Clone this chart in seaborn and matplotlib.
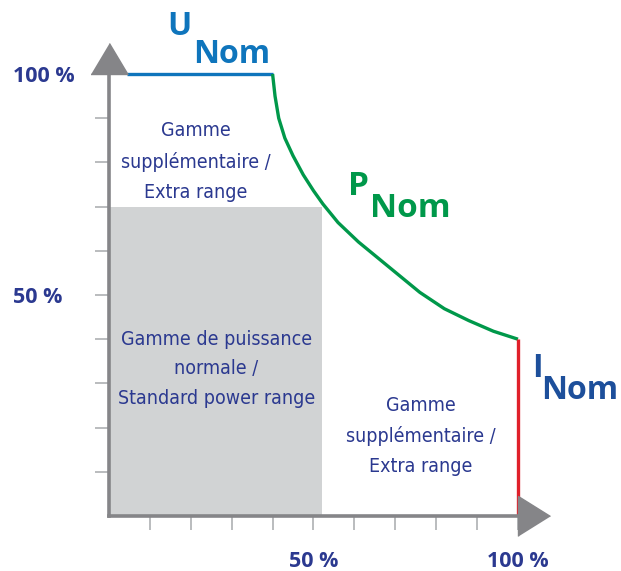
import matplotlib
matplotlib.use("Agg")
import matplotlib.pyplot as plt
import seaborn as sns
import pandas as pd

# ---- data (percent of nominal) ----
u_x = [4.4, 40.0]           # U_Nom limit (constant voltage)
u_y = [100, 100]
p_x = [40.0, 40.6, 41.5, 43.0, 45.0, 47.5, 50.0, 52.3, 56.0, 61.0, 66.0, 71.0, 76.0, 82.0, 88.0, 94.0, 100]
p_y = [100, 95.0, 90.0, 85.5, 81.5, 77.2, 73.6, 70.6, 66.4, 62.0, 58.2, 54.4, 50.6, 46.9, 44.2, 41.8, 40]
i_x = [100, 100]            # I_Nom limit (constant current)
i_y = [40, 0]
std_x = [0, 52]             # standard power range box
std_top = 70

tick_pos = [10, 20, 30, 40, 50, 60, 70, 80, 90, 100]
tick_lab = ["", "", "", "", "50 %", "", "", "", "", "100 %"]

sns.set_style("white")
plt.rcParams["font.family"] = ["Open Sans", "DejaVu Sans"]

NAVY = "#2b3990"
BLUE = "#0f75bc"
GREEN = "#00984a"
RED = "#e0202a"
DBLUE = "#1d4f9b"
AXGRAY = "#858588"
TICKGRAY = "#a7a9ac"
BOXGRAY = "#d1d3d4"
NARROW = ["DejaVu Sans Condensed", "DejaVu Sans"]

fig = plt.figure(figsize=(6.21, 5.71), dpi=100)
ax = fig.add_axes([0.1755, 0.0963, 0.6586, 0.7741])
ax.set_xlim(0, 100)
ax.set_ylim(0, 100)

# grey standard range
ax.fill_between(std_x, 0, std_top, color=BOXGRAY, linewidth=0, zorder=1)

df_u = pd.DataFrame({"x": u_x, "y": u_y})
df_p = pd.DataFrame({"x": p_x, "y": p_y})
df_i = pd.DataFrame({"x": i_x, "y": i_y})
for df, col in [(df_u, BLUE), (df_p, GREEN), (df_i, RED)]:
    sns.lineplot(data=df, x="x", y="y", ax=ax, color=col, linewidth=2.4,
                 sort=False, estimator=None, zorder=4)
for ln in ax.lines:
    ln.set_clip_on(False)
    ln.set_solid_capstyle("butt")
    ln.set_solid_joinstyle("round")

# axes / spines
for s in ["top", "right"]:
    ax.spines[s].set_visible(False)
for s in ["left", "bottom"]:
    ax.spines[s].set_color(AXGRAY)
    ax.spines[s].set_linewidth(2.6)
    ax.spines[s].set_zorder(5)

# arrow heads
tri_up = [(-18.5, 0), (18.5, 0), (0, 31)]
tri_right = [(0, -20), (0, 20), (32, 0)]
ax.plot([0], [100], marker=tri_up, markersize=44.6, color=AXGRAY,
        linestyle="none", clip_on=False, zorder=6)
ax.plot([100], [0], marker=tri_right, markersize=46, color=AXGRAY,
        linestyle="none", clip_on=False, zorder=6)

ax.set_xticks(tick_pos, labels=tick_lab)
ax.set_yticks(tick_pos, labels=tick_lab)
ax.tick_params(axis="both", direction="out", length=10, width=1.1,
               color=TICKGRAY, labelcolor=NAVY, labelsize=15.5,
               left=True, bottom=True)
ax.tick_params(axis="y", pad=59)
ax.tick_params(axis="x", pad=15)
for lab in ax.get_yticklabels():
    lab.set_ha("left")
    lab.set_fontweight("bold")
for lab in ax.get_xticklabels():
    lab.set_fontweight("bold")
ax.set_xlabel("")
ax.set_ylabel("")

# range labels
kw = dict(ha="center", va="center", color=NAVY, fontsize=14,
          family=NARROW, fontstretch="condensed", linespacing=1.72, zorder=7)
ax.text(21.3, 80.2, "Gamme\nsupplémentaire /\nExtra range", **kw)
ax.text(26.2, 33.3, "Gamme de puissance\nnormale /\nStandard power range", **kw)
ax.text(76.3, 18.1, "Gamme\nsupplémentaire /\nExtra range", **kw)

# limit labels
bkw = dict(ha="left", va="baseline", fontweight="bold", clip_on=False)
ax.text(14.2, 108.8, "U", color=BLUE, fontsize=23, **bkw)
ax.text(20.5, 102.5, "Nom", color=BLUE, fontsize=23, **bkw)
ax.text(58.4, 72.6, "P", color=GREEN, fontsize=24, **bkw)
ax.text(63.8, 67.6, "Nom", color=GREEN, fontsize=24, **bkw)
ax.text(103.5, 31.4, "I", color=DBLUE, fontsize=23, **bkw)
ax.text(105.6, 26.5, "Nom", color=DBLUE, fontsize=23, **bkw)

fig.savefig("out.png", dpi=100)
